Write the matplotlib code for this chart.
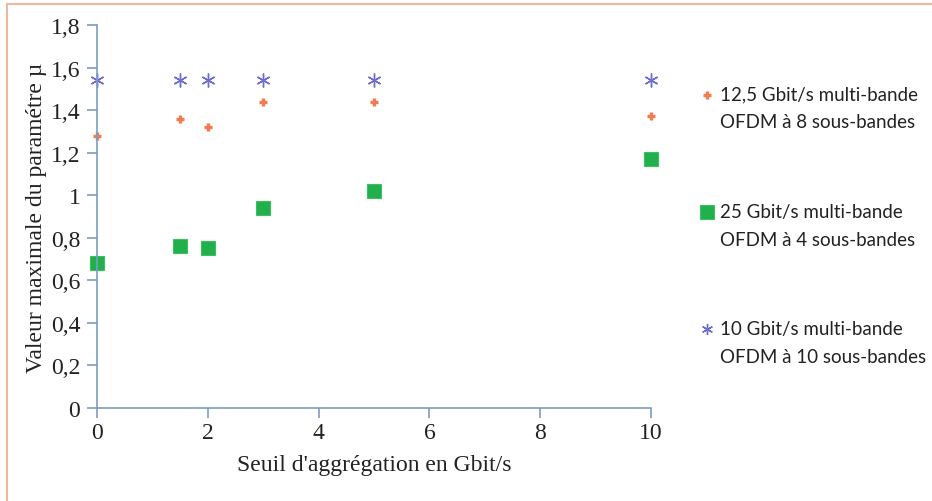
import matplotlib.pyplot as plt
from matplotlib.lines import Line2D
from matplotlib.legend_handler import HandlerLine2D
from matplotlib.ticker import FuncFormatter

# data
seuil = [0, 1.5, 2, 3, 5, 10]
mu_12g5 = [1.28, 1.36, 1.32, 1.44, 1.44, 1.37]
mu_25g = [0.68, 0.76, 0.75, 0.94, 1.02, 1.17]
mu_10g = [1.54, 1.54, 1.54, 1.54, 1.54, 1.54]

labels = ["12,5 Gbit/s multi-bande\nOFDM à 8 sous-bandes",
          "25 Gbit/s multi-bande\nOFDM à 4 sous-bandes",
          "10 Gbit/s multi-bande\nOFDM à 10 sous-bandes"]

axis_col = "#7d9cc2"
serif = ["Liberation Serif", "DejaVu Serif"]


class FirstLineHandler(HandlerLine2D):
    """Put the legend marker level with the first line of a two-line label."""

    def create_artists(self, legend, orig_handle, xdescent, ydescent, width, height, fontsize, trans):
        arts = super().create_artists(legend, orig_handle, xdescent, ydescent, width, height, fontsize, trans)
        for a in arts:
            a.set_ydata([y + 0.72 * fontsize for y in a.get_ydata()])
        return arts


fig = plt.figure(figsize=(9.32, 5.02), dpi=100)
ax = fig.add_axes([0.1041, 0.1853, 0.5944, 0.7629])

ax.plot(seuil, mu_12g5, ls="none", marker="+", ms=6, mew=2.4, color="#f47a50")
ax.plot(seuil, mu_25g, ls="none", marker="s", ms=10.5, color="#21b04b", mec="#3cc060", mew=0.8)
ax.plot(seuil, mu_10g, ls="none", marker=(6, 2, 0), ms=10, mew=1.0, color="#6b6bd0")

ax.set_xlim(0, 10)
ax.set_ylim(0, 1.8)
ax.set_xticks([0, 2, 4, 6, 8, 10])
ax.set_yticks([0, 0.2, 0.4, 0.6, 0.8, 1.0, 1.2, 1.4, 1.6, 1.8])
ax.yaxis.set_major_formatter(FuncFormatter(lambda v, p: ("%g" % round(v, 1)).replace(".", ",")))

for s in ["top", "right"]:
    ax.spines[s].set_visible(False)
for s in ["left", "bottom"]:
    ax.spines[s].set_color(axis_col)
    ax.spines[s].set_linewidth(1.2)
for ln in ax.get_lines():
    ln.set_clip_on(False)

ax.tick_params(axis="both", direction="out", color=axis_col, width=1.2, length=7,
               labelsize=17, labelcolor="#222222")
ax.tick_params(axis="x", pad=3)
ax.tick_params(axis="y", pad=5)
for t in ax.get_xticklabels() + ax.get_yticklabels():
    t.set_family(serif)

ax.set_xlabel("Seuil d'aggrégation en Gbit/s", family=serif, fontsize=17, color="#222222", labelpad=8)
ax.set_ylabel("Valeur maximale du paramétre µ", family=serif, fontsize=17, color="#222222", labelpad=3)

handles = [
    Line2D([], [], ls="none", marker="+", ms=6, mew=2.4, color="#f47a50"),
    Line2D([], [], ls="none", marker="s", ms=10.5, color="#21b04b", mec="#3cc060", mew=0.8),
    Line2D([], [], ls="none", marker=(6, 2, 0), ms=8, mew=1.0, color="#6b6bd0"),
]
leg = fig.legend(handles, labels, loc="upper left", bbox_to_anchor=(0.734, 0.862),
                 frameon=False, handlelength=0.6, handletextpad=0.4, labelspacing=3.85,
                 handler_map={Line2D: FirstLineHandler()},
                 prop={"family": ["Lato", "DejaVu Sans"], "size": 13.5})
for t in leg.get_texts():
    t.set_linespacing(1.8)
    t.set_color("#222222")

# outer frame lines (top and left edges of the original border)
fig.add_artist(Line2D([0.0075, 1.0], [0.99, 0.99], transform=fig.transFigure, color="#e9b9a0", lw=1.5))
fig.add_artist(Line2D([0.0075, 0.0075], [0.0, 0.99], transform=fig.transFigure, color="#e9b9a0", lw=1.5))

fig.savefig("out.png", dpi=100)
